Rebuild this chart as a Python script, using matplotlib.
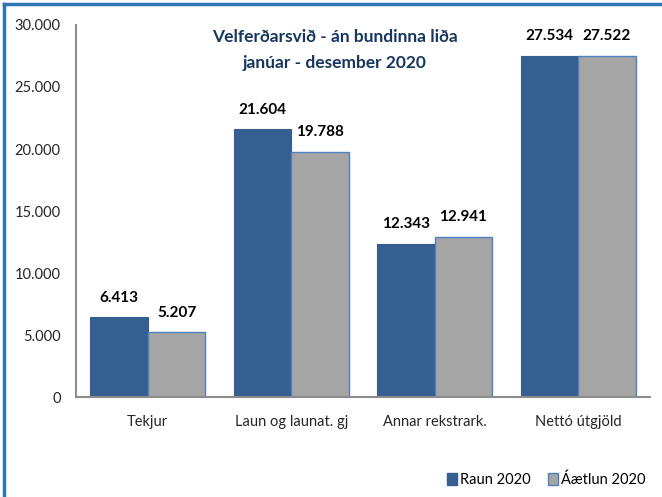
import matplotlib
matplotlib.use("Agg")
import matplotlib.pyplot as plt
from matplotlib.lines import Line2D
from matplotlib.patches import Patch
from matplotlib.ticker import FuncFormatter
import numpy as np

categories = ["Tekjur", "Laun og launat. gj", "Annar rekstrark.", "Nettó útgjöld"]
raun_2020 = [6413, 21604, 12343, 27534]
aaetlun_2020 = [5207, 19788, 12941, 27522]
series_names = ["Raun 2020", "Áætlun 2020"]
title = "Velferðarsvið - án bundinna liða\njanúar - desember 2020"

plt.rcParams['font.family'] = ['Lato', 'DejaVu Sans']

fig = plt.figure(figsize=(6.62, 4.97), dpi=100)
ax = fig.add_axes([0.1148, 0.2012, 0.867, 0.7485])

blue = "#365F91"
gray = "#A6A6A6"
edge = "#4F81BD"
x = np.arange(len(categories))
w = 0.4
b1 = ax.bar(x - w/2, raun_2020, w, color=blue, edgecolor=blue, linewidth=0.8)
b2 = ax.bar(x + w/2, aaetlun_2020, w, color=gray, edgecolor=edge, linewidth=1.0)

def fmt(v):
    return f"{int(v):,}".replace(",", ".")

for bars, vals in ((b1, raun_2020), (b2, aaetlun_2020)):
    for r, v in zip(bars, vals):
        ax.annotate(fmt(v), (r.get_x() + r.get_width()/2, r.get_height()),
                    xytext=(0, 9), textcoords="offset points", ha="center", va="bottom",
                    fontsize=11, fontweight="bold", color="black")

ax.set_ylim(0, 30000)
ax.set_xlim(-0.5, len(categories) - 0.5)
ax.set_yticks(np.arange(0, 30001, 5000))
ax.yaxis.set_major_formatter(FuncFormatter(lambda v, p: fmt(v)))
ax.set_xticks(x)
ax.set_xticklabels(categories)
ax.tick_params(axis='both', length=0, labelsize=10.5, colors="#262626")
ax.tick_params(axis='y', pad=11)
ax.tick_params(axis='x', pad=13)
for s in ("top", "right"):
    ax.spines[s].set_visible(False)
for s in ("left", "bottom"):
    ax.spines[s].set_color("#8C8C8C")
    ax.spines[s].set_linewidth(1.5)

fig.text(0.506, 0.900, title, ha="center", va="center", fontsize=12.5,
         fontweight="bold", color="#17375E", linespacing=1.75)

handles = [Patch(facecolor=blue, edgecolor=blue), Patch(facecolor=gray, edgecolor=edge)]
fig.legend(handles, series_names, loc="center right", bbox_to_anchor=(0.995, 0.035),
           frameon=False, ncol=2, fontsize=10.5, handlelength=0.7, handleheight=0.9,
           handletextpad=0.2, columnspacing=1.2)

# figure border (top and left visible)
fig.add_artist(Line2D([0.006, 0.006], [0, 0.992], transform=fig.transFigure, color="#2E75B6", linewidth=2.5))
fig.add_artist(Line2D([0.006, 1.0], [0.992, 0.992], transform=fig.transFigure, color="#2E75B6", linewidth=2.5))

fig.savefig("out.png", dpi=100)
